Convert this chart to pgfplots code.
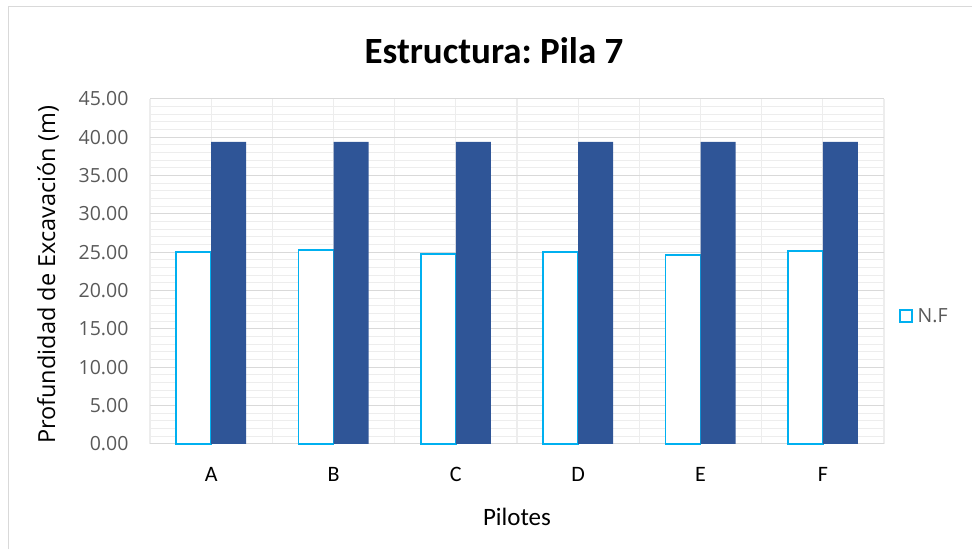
\documentclass[border=0pt]{standalone}
\usepackage{pgfplots}
\pgfplotsset{compat=1.18}
\usepackage{fontspec}
\setmainfont{Carlito}
\newfontfamily\osans{Open Sans}
\definecolor{nfblue}{HTML}{00B0F0}
\definecolor{dkblue}{HTML}{2F5597}
\definecolor{txtgray}{HTML}{595959}
\definecolor{majgrid}{HTML}{D9D9D9}
\definecolor{mingrid}{HTML}{EDEDED}
\frenchspacing
\begin{document}
\begin{tikzpicture}[x=1pt,y=1pt]
\useasboundingbox (0,0) rectangle (972,549);
\draw[majgrid, line width=1pt] (8,0) -- (8,542) -- (972,542);
\begin{axis}[
  at={(150pt,105pt)}, anchor=south west,
  scale only axis, width=734pt, height=345pt,
  ybar, bar width=35pt,
  xmin=-0.5, xmax=5.5, ymin=0, ymax=45,
  xtick={0,...,5}, xticklabels={A,B,C,D,E,F},
  minor xtick={-0.5,0.5,1.5,2.5,3.5,4.5,5.5},
  ytick={0,5,...,45}, minor ytick={0,1,...,45},
  yticklabel={\pgfmathprintnumber[fixed,fixed zerofill,precision=2]{\tick}},
  /pgf/number format/assume math mode=true,
  xmajorgrids, xminorgrids, ymajorgrids, yminorgrids,
  major grid style={majgrid, line width=1pt},
  minor grid style={mingrid, line width=1pt},
  x grid style={mingrid, line width=1.2pt},
  axis line style={draw=none},
  axis x line*=bottom,
  x axis line style={draw=majgrid, line width=1pt},
  tick style={draw=none},
  yticklabel style={text=txtgray, font=\osans\fontsize{19.5}{24}\selectfont, xshift=-18pt},
  xticklabel style={text=black, font=\fontsize{22}{26}\selectfont, yshift=-16pt, text height=14pt, text depth=0pt},
  legend style={at={(1.02,0.37)}, anchor=west, draw=none, fill=none,
    font=\osans\fontsize{19.5}{24}\selectfont\color{txtgray}, inner sep=0pt},
  legend image code/.code={\draw[#1, fill=white, line width=1.8pt] (0pt,-6pt) rectangle (12pt,6pt);},
  legend cell align=left,
  clip=false,
]
\addplot[fill=white, draw=nfblue, line width=1.8pt, bar shift=-17.5pt] coordinates {(0,25.08) (1,25.30) (2,24.82) (3,25.04) (4,24.70) (5,25.17)};
\addlegendentry{\hspace{3pt}N.F}
\addplot[fill=dkblue, draw=none, bar shift=17.5pt, forget plot] coordinates {(0,39.40) (1,39.40) (2,39.40) (3,39.40) (4,39.40) (5,39.40)};
\end{axis}
\node[font=\fontsize{37}{42}\selectfont\bfseries] at (494,498) {Estructura: Pila 7};
\node[font=\fontsize{25}{30}\selectfont] at (517,32) {Pilotes};
\node[font=\osans\fontsize{23.5}{28}\selectfont, rotate=90] at (48,274) {Profundidad de Excavación (m)};
\end{tikzpicture}
\end{document}
